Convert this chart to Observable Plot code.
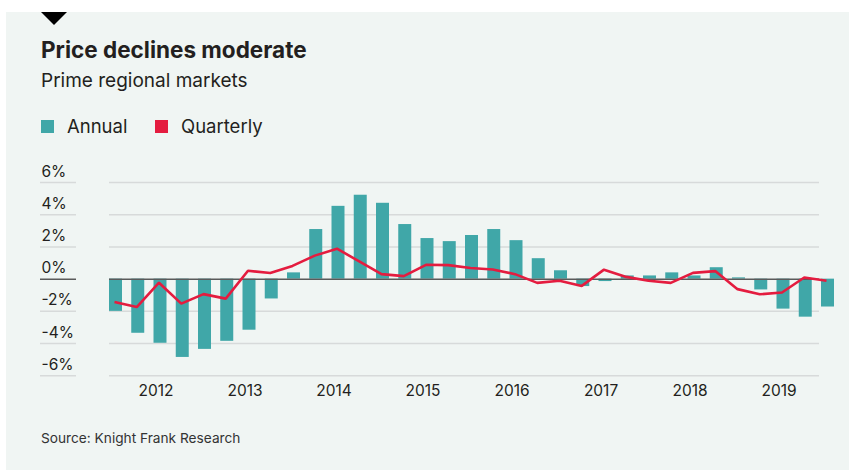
<!DOCTYPE html>
<html>
<head>
<meta charset="utf-8">
<script src="https://cdn.jsdelivr.net/npm/d3@7"></script>
<script src="https://cdn.jsdelivr.net/npm/@observablehq/plot@0.6"></script>
<style>
  html, body { margin: 0; padding: 0; background: #ffffff; }
  #root { position: relative; width: 849px; height: 470px; overflow: hidden; background: #ffffff; font-family: Inter, "Noto Sans", sans-serif; color: #231f20; }
  #panel { position: absolute; left: 6px; top: 12px; right: 0; bottom: 0; background: #f0f5f3; }
  #tri { position: absolute; left: 41px; top: 12px; width: 0; height: 0; border-left: 13.5px solid transparent; border-right: 13.5px solid transparent; border-top: 13px solid #000; }
  .t { position: absolute; white-space: nowrap; line-height: 1; }
  #title { left: 41px; top: 39px; font-size: 22.5px; font-weight: 700; }
  #subtitle { left: 41px; top: 71.3px; font-size: 19px; font-weight: 400; }
  .sw { position: absolute; width: 13px; height: 13px; top: 120px; }
  .lg { top: 116.8px; font-size: 18.5px; }
  #source { left: 41px; top: 432.3px; font-size: 13.7px; color: #333; }
  #chart { position: absolute; left: 0; top: 150px; }
</style>
</head>
<body>
<div id="root">
  <div id="panel"></div>
  <div id="tri"></div>
  <div class="t" id="title">Price declines moderate</div>
  <div class="t" id="subtitle">Prime regional markets</div>
  <div class="sw" style="left:41px;background:#40a7a8"></div>
  <div class="t lg" style="left:67px">Annual</div>
  <div class="sw" style="left:155px;background:#e41c3f"></div>
  <div class="t lg" style="left:181px">Quarterly</div>
  <div class="t" id="source">Source: Knight Frank Research</div>
  <div id="chart"></div>
</div>
<script>
const quarters = ["Q1 2012","Q2 2012","Q3 2012","Q4 2012","Q1 2013","Q2 2013","Q3 2013","Q4 2013",
  "Q1 2014","Q2 2014","Q3 2014","Q4 2014","Q1 2015","Q2 2015","Q3 2015","Q4 2015",
  "Q1 2016","Q2 2016","Q3 2016","Q4 2016","Q1 2017","Q2 2017","Q3 2017","Q4 2017",
  "Q1 2018","Q2 2018","Q3 2018","Q4 2018","Q1 2019","Q2 2019","Q3 2019","Q4 2019","Q1 2020"];
const annual = [-2.0, -3.36, -3.98, -4.86, -4.36, -3.86, -3.17, -1.23, 0.39, 3.08, 4.52, 5.21, 4.71, 3.39, 2.52, 2.33,
  2.71, 3.08, 2.39, 1.27, 0.52, -0.46, -0.15, 0.2, 0.2, 0.39, 0.2, 0.71, 0.08, -0.67, -1.86, -2.36, -1.73];
const quarterly = [-1.42, -1.73, -0.22, -1.52, -0.93, -1.21, 0.52, 0.38, 0.82, 1.46, 1.89, 1.1, 0.31, 0.19, 0.89, 0.87,
  0.69, 0.6, 0.31, -0.23, -0.1, -0.42, 0.59, 0.14, -0.1, -0.23, 0.39, 0.5, -0.62, -0.94, -0.83, 0.1, -0.1];
const yearLabels = ["2012","2013","2014","2015","2016","2017","2018","2019"];
const yTicks = [6, 4, 2, 0, -2, -4, -6];

const data = quarters.map((q, i) => ({q, i, annual: annual[i], quarterly: quarterly[i]}));
const yearPos = yearLabels.map((y, k) => ({label: y, i: quarters.indexOf("Q1 " + y) + 1.8}));

const teal = "#40a7a8", red = "#e41c3f", grid = "#d7dada", zero = "#5a5a5a";
const halfBar = 0.292;

const chart = Plot.plot({
  width: 849,
  height: 270,
  marginLeft: 109,
  marginRight: 30,
  marginTop: 32,
  marginBottom: 44.7,
  style: {background: "transparent", fontFamily: "Inter, 'Noto Sans', sans-serif", color: "#231f20"},
  x: {type: "linear", domain: [-0.292, 31.618], axis: null},
  y: {domain: [-6, 6], axis: null},
  marks: [
    Plot.ruleY(yTicks.filter(d => d !== 0), {y: d => d, stroke: grid, strokeWidth: 1.5}),
    Plot.axisY(yTicks, {anchor: "left", tickSize: 36, dx: -33, tickFormat: () => "", stroke: d => d === 0 ? zero : grid, strokeWidth: 1.5, label: null}),
    Plot.text(yTicks, {y: d => d, text: d => d + "%", frameAnchor: "left", dx: -68, dy: -6, textAnchor: "start", lineAnchor: "bottom", fontSize: 15.5, fill: "#231f20"}),
    Plot.rectY(data, {x1: d => d.i - halfBar, x2: d => d.i + halfBar, y1: 0, y2: "annual", fill: teal}),
    Plot.ruleY([0], {stroke: zero, strokeWidth: 1.5}),
    Plot.line(data, {x: "i", y: "quarterly", stroke: red, strokeWidth: 2.6, dx: -1.5, strokeLinejoin: "miter", strokeLinecap: "butt"}),
    Plot.text(yearPos, {x: "i", text: "label", frameAnchor: "bottom", dy: 19.7, lineAnchor: "bottom", fontSize: 15.5, fill: "#231f20"})
  ]
});
document.getElementById("chart").appendChild(chart);
</script>
</body>
</html>
